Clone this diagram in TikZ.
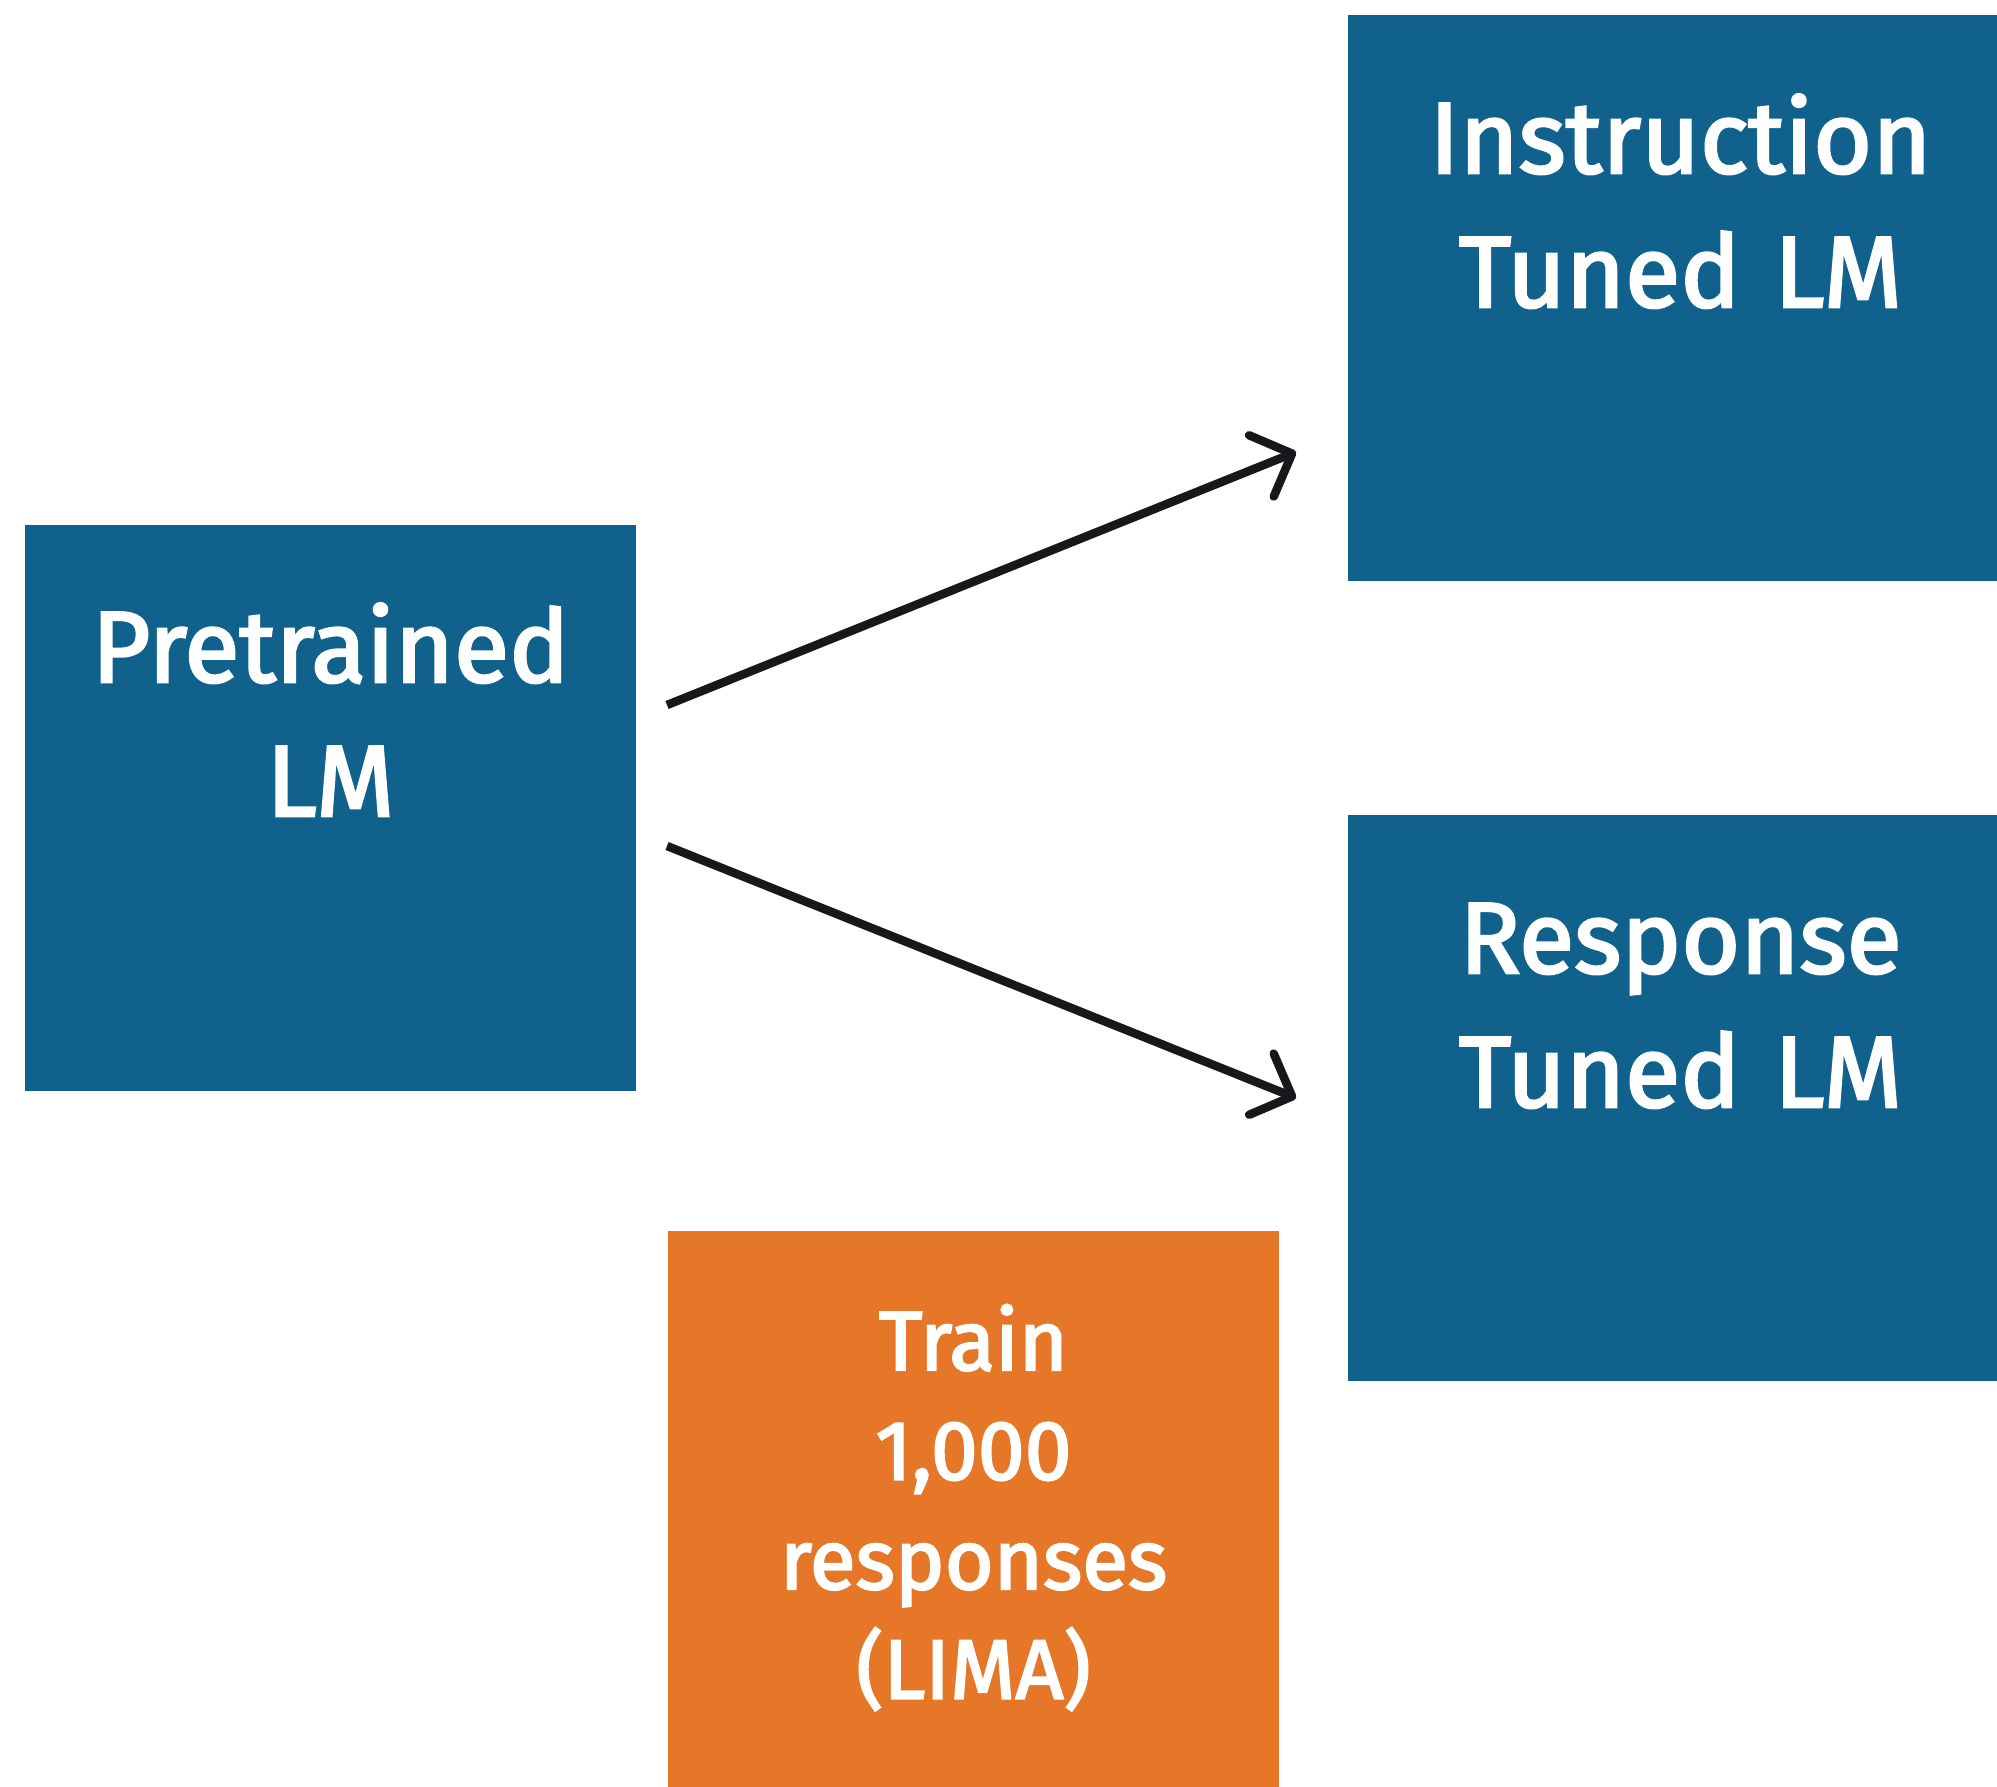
\documentclass[tikz,border=0pt]{standalone}
\usepackage{fontspec}
\setmainfont{Fira Sans}
\newfontfamily\captionface{Fira Sans}[FakeBold=2.5]
\usetikzlibrary{arrows.meta}
\definecolor{lmblue}{RGB}{16,98,141}
\definecolor{dataorange}{RGB}{230,118,40}
\definecolor{inkdark}{RGB}{24,24,28}
\begin{document}
\begin{tikzpicture}[x=1pt,y=-1pt,
  box/.style={rectangle, inner sep=0pt, outer sep=0pt, anchor=north west},
  modelbox/.style={box, fill=lmblue, minimum height=566pt},
  databox/.style={box, fill=dataorange, minimum height=566pt, minimum width=611pt},
  boxtext/.style={text=white, text width=640pt, align=center, inner sep=0pt,
    anchor=base, font=\captionface\fontsize{101}{134}\selectfont},
  datatext/.style={boxtext, font=\captionface\fontsize{84}{109.5}\selectfont},
  flow/.style={draw=inkdark, line width=8.5pt,
    -{Straight Barb[length=33pt, width=66pt, round]}}
]
\useasboundingbox (0,0) rectangle (1997,1786);
\clip (0,0) rectangle (1997,1786);

% model boxes
\node[modelbox, minimum width=611pt] (pre)  at (25,525)   {};
\node[modelbox, minimum width=665pt] (inst) at (1348,15)  {};
\node[modelbox, minimum width=665pt] (resp) at (1348,815) {};
% training data box
\node[databox] (lima) at (668,1231) {};

% box captions
\node[boxtext, yshift=-157pt] (pretext)  at (pre.north)  {Pretrained\\LM};
\node[boxtext, yshift=-158pt] (insttext) at (inst.north) {Instruction\\Tuned LM};
\node[boxtext, yshift=-158pt] (resptext) at (resp.north) {Response\\Tuned LM};
\node[datatext, yshift=-139pt] (limatext) at (lima.north) {Train\\1,000\\responses\\(LIMA)};

% connectors
\coordinate (upstart)   at (667,705);
\coordinate (upend)     at (1296,452);
\coordinate (downstart) at (667,846);
\coordinate (downend)   at (1296,1098);
\draw[flow] (upstart) -- (upend);
\draw[flow] (downstart) -- (downend);
\end{tikzpicture}
\end{document}
